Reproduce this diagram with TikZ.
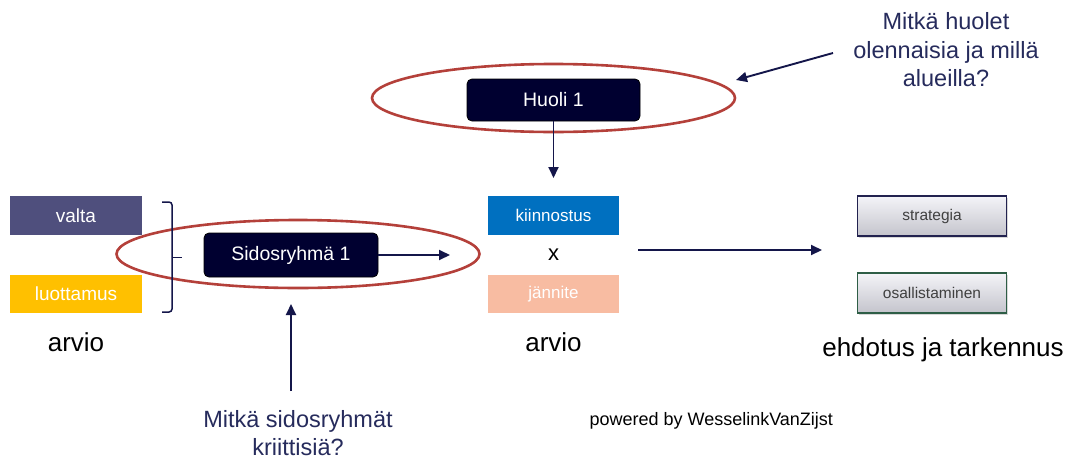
\documentclass[tikz,border=0pt]{standalone}
\usepackage{fontspec}
\setmainfont{Liberation Sans}
\usetikzlibrary{shapes.geometric,arrows.meta,shadows}
\definecolor{navy}{HTML}{14164A}
\definecolor{qblue}{HTML}{262B5C}
\definecolor{boxdark}{HTML}{000030}
\definecolor{ellred}{HTML}{B4403A}
\definecolor{valtac}{HTML}{4F4F7D}
\definecolor{luotc}{HTML}{FFC000}
\definecolor{kiinc}{HTML}{0070C0}
\definecolor{jannc}{HTML}{F8BCA2}
\definecolor{stratb}{HTML}{22224F}
\definecolor{osalb}{HTML}{2E5E46}
\definecolor{gradtop}{HTML}{F4F4F8}
\definecolor{gradbot}{HTML}{C4C4CC}
\tikzset{
  flatbox/.style={minimum width=132pt, minimum height=39pt, inner sep=0pt, text=white, font=\fontsize{19}{22}\selectfont},
  darkbox/.style={draw=black, line width=0.8pt, fill=boxdark, rounded corners=5pt, inner sep=0pt, text=white, font=\fontsize{19.5}{22}\selectfont},
  ring/.style={ellipse, draw=ellred, line width=2.6pt, minimum width=363pt, minimum height=68pt, inner sep=0pt},
  gradbox/.style={line width=1.6pt, top color=gradtop, bottom color=gradbot, minimum width=149pt, minimum height=40pt, inner sep=0pt, text=black!75, font=\fontsize{15.5}{18}\selectfont, drop shadow={shadow xshift=1pt, shadow yshift=-1.5pt, opacity=0.3}},
  conn/.style={draw=navy, line width=1.9pt, -{Triangle[length=11pt,width=10pt]}},
  bigtxt/.style={font=\fontsize{26}{30}\selectfont, text=black},
  qtxt/.style={font=\fontsize{23.5}{28.5}\selectfont, text=qblue, align=center},
}
\begin{document}
\begin{tikzpicture}[x=1pt, y=-1pt]
\useasboundingbox[fill=white] (0,0) rectangle (1070,461);
% ellipses
\node[ring] (e1) at (298,254) {};
\node[ring] (e2) at (553.5,98) {};
% left boxes
\node[flatbox, fill=valtac] (valta) at (76,215.5) {valta};
\node[flatbox, fill=luotc, minimum height=38pt] (luot) at (76,294) {luottamus};
\node[bigtxt] (arvio1) at (76,342) {arvio};
% bracket
\coordinate (bt) at (162,202);
\coordinate (bb) at (162,312);
\coordinate (bm) at (172,257.5);
\coordinate (bmt) at (182,257.5);
\draw[navy, line width=1.5pt, rounded corners=3pt] (bt) -- (172,202) -- (172,312) -- (bb);
\draw[navy, line width=1.5pt] (bm) -- (bmt);
% stakeholder
\node[darkbox, minimum width=174pt, minimum height=44pt] (sid) at (291,255) {Sidosryhmä 1};
\coordinate (sidend) at (450,255);
\draw[conn] (sid.east) -- (sidend);
% concern
\node[darkbox, minimum width=173pt, minimum height=42pt] (huoli) at (553.5,100) {Huoli 1};
\coordinate (huend) at (553.5,178);
\draw[conn] (huoli.south) -- (huend);
% middle
\node[flatbox, fill=kiinc, minimum width=131pt, font=\fontsize{17}{20}\selectfont] (kiin) at (553.5,215.5) {kiinnostus};
\node[font=\fontsize{22}{24}\selectfont] (x) at (553.5,255) {x};
\node[flatbox, fill=jannc, minimum width=131pt, minimum height=38pt, font=\fontsize{17}{20}\selectfont] (jann) at (553.5,294) {jännite};
\node[bigtxt] (arvio2) at (553.5,342) {arvio};
% right arrow
\coordinate (ra1) at (638,250);
\coordinate (ra2) at (822,250);
\draw[conn] (ra1) -- (ra2);
% right boxes
\node[gradbox, draw=stratb] (strat) at (932,216) {strategia};
\node[gradbox, draw=osalb] (osal) at (932,293) {osallistaminen};
\node[bigtxt] (ehd) at (943,350) {ehdotus ja tarkennus};
% questions
\node[qtxt] (q1) at (946,50) {Mitkä huolet\\olennaisia ja millä\\alueilla?};
\coordinate (q1s) at (833,53);
\coordinate (q1e) at (736,80);
\draw[conn] (q1s) -- (q1e);
\node[qtxt] (q2) at (298,433) {Mitkä sidosryhmät\\kriittisiä?};
\coordinate (q2s) at (291,391);
\coordinate (q2e) at (291,304);
\draw[conn] (q2s) -- (q2e);
\node[font=\fontsize{18}{21}\selectfont, text=black, anchor=west] (pw) at (586,421) {powered by WesselinkVanZijst};
\end{tikzpicture}
\end{document}
